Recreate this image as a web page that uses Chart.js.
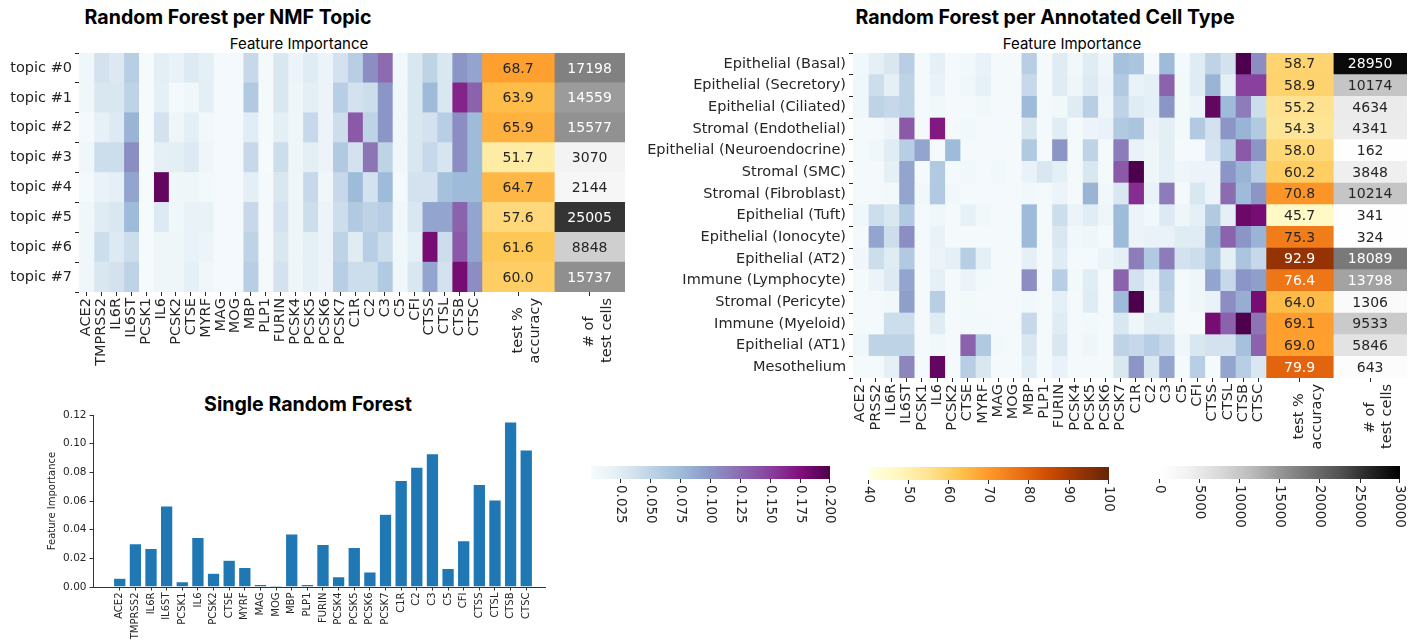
<!DOCTYPE html>
<html>
<head>
<meta charset="utf-8">
<script src="https://cdn.jsdelivr.net/npm/chart.js@4.4.0/dist/chart.umd.min.js"></script>
<style>
  body { margin: 0; background: #fff; width: 1420px; height: 643px; overflow: hidden; position: relative; }
  canvas { position: absolute; }
  .title { position: absolute; font: bold 19.6px Inter, sans-serif; color: #000; white-space: nowrap; transform: translateX(-50%); }
  .sub { position: absolute; font: 15px Inter, sans-serif; color: #000; white-space: nowrap; transform: translateX(-50%); }
</style>
</head>
<body>
<div class="title" style="left:228px;top:5px">Random Forest per NMF Topic</div>
<div class="sub" style="left:299px;top:34px">Feature Importance</div>
<div class="title" style="left:1045px;top:5px">Random Forest per Annotated Cell Type</div>
<div class="sub" style="left:1072px;top:34px">Feature Importance</div>
<div class="title" style="left:308px;top:392px">Single Random Forest</div>

<canvas id="topic-heat"></canvas>
<canvas id="celltype-heat"></canvas>
<canvas id="single-rf"></canvas>
<canvas id="cb-imp"></canvas>
<canvas id="cb-acc"></canvas>
<canvas id="cb-cells"></canvas>

<script>
// Datos
const FEATURES = ["ACE2","TMPRSS2","IL6R","IL6ST","PCSK1","IL6","PCSK2","CTSE","MYRF","MAG","MOG","MBP","PLP1",
  "FURIN","PCSK4","PCSK5","PCSK6","PCSK7","C1R","C2","C3","C5","CFI","CTSS","CTSL","CTSB","CTSC"];
const FEATURES_CELLTYPE = ["ACE2","PRSS2","IL6R","IL6ST","PCSK1","IL6","PCSK2","CTSE","MYRF","MAG","MOG","MBP","PLP1",
  "FURIN","PCSK4","PCSK5","PCSK6","PCSK7","C1R","C2","C3","C5","CFI","CTSS","CTSL","CTSB","CTSC"];
const ACC_LABEL = ["test %  ", "accuracy"];
const CELLS_LABEL = ["# of    ", "test cells"];

const TOPICS = ["topic #0","topic #1","topic #2","topic #3","topic #4","topic #5","topic #6","topic #7"];
const TOPIC_IMPORTANCE = [
  [0.008,0.035,0.028,0.055,0.002,0.022,0.015,0.027,0.020,0.004,0.004,0.045,0.003,0.030,0.012,0.025,0.012,0.035,0.055,0.105,0.125,0.006,0.030,0.050,0.030,0.100,0.090],
  [0.008,0.030,0.030,0.050,0.002,0.020,0.004,0.008,0.022,0.004,0.004,0.060,0.003,0.030,0.010,0.022,0.012,0.055,0.035,0.040,0.100,0.008,0.030,0.075,0.030,0.165,0.130],
  [0.004,0.018,0.027,0.080,0.002,0.035,0.010,0.022,0.006,0.004,0.004,0.024,0.003,0.022,0.010,0.045,0.012,0.040,0.135,0.050,0.100,0.008,0.030,0.035,0.055,0.105,0.075],
  [0.008,0.040,0.040,0.105,0.002,0.020,0.022,0.027,0.010,0.004,0.004,0.045,0.002,0.040,0.010,0.022,0.012,0.060,0.035,0.120,0.050,0.008,0.030,0.045,0.032,0.105,0.075],
  [0.004,0.015,0.020,0.090,0.002,0.190,0.010,0.010,0.005,0.004,0.004,0.022,0.003,0.030,0.010,0.045,0.008,0.045,0.075,0.035,0.075,0.004,0.035,0.035,0.070,0.075,0.075],
  [0.008,0.025,0.030,0.075,0.002,0.027,0.008,0.016,0.016,0.004,0.004,0.045,0.003,0.035,0.010,0.040,0.012,0.040,0.060,0.050,0.055,0.008,0.030,0.090,0.090,0.130,0.090],
  [0.008,0.040,0.027,0.040,0.002,0.010,0.010,0.015,0.012,0.004,0.004,0.050,0.003,0.030,0.010,0.020,0.012,0.050,0.025,0.055,0.040,0.008,0.020,0.180,0.040,0.135,0.090],
  [0.008,0.030,0.035,0.050,0.002,0.010,0.010,0.020,0.008,0.004,0.004,0.055,0.003,0.035,0.010,0.020,0.012,0.055,0.040,0.040,0.060,0.008,0.030,0.090,0.035,0.180,0.105],
];
const TOPIC_ACCURACY = [68.7, 63.9, 65.9, 51.7, 64.7, 57.6, 61.6, 60.0];
const TOPIC_TEST_CELLS = [17198, 14559, 15577, 3070, 2144, 25005, 8848, 15737];

const CELL_TYPES = ["Epithelial (Basal)","Epithelial (Secretory)","Epithelial (Ciliated)","Stromal (Endothelial)",
  "Epithelial (Neuroendocrine)","Stromal (SMC)","Stromal (Fibroblast)","Epithelial (Tuft)","Epithelial (Ionocyte)",
  "Epithelial (AT2)","Immune (Lymphocyte)","Stromal (Pericyte)","Immune (Myeloid)","Epithelial (AT1)","Mesothelium"];
const CELLTYPE_IMPORTANCE = [
  [0.006,0.020,0.030,0.055,0.003,0.020,0.004,0.006,0.015,0.003,0.003,0.055,0.003,0.025,0.006,0.025,0.010,0.070,0.065,0.004,0.075,0.004,0.025,0.050,0.035,0.200,0.105],
  [0.008,0.040,0.020,0.050,0.003,0.015,0.004,0.008,0.018,0.003,0.003,0.045,0.003,0.025,0.010,0.027,0.012,0.060,0.015,0.020,0.130,0.005,0.025,0.080,0.020,0.150,0.150],
  [0.008,0.050,0.045,0.050,0.004,0.007,0.003,0.003,0.007,0.003,0.003,0.075,0.003,0.007,0.025,0.055,0.010,0.050,0.025,0.020,0.100,0.005,0.012,0.190,0.075,0.115,0.040],
  [0.003,0.003,0.012,0.135,0.003,0.170,0.003,0.006,0.003,0.004,0.003,0.030,0.003,0.024,0.003,0.012,0.015,0.060,0.065,0.012,0.022,0.005,0.060,0.035,0.100,0.080,0.060],
  [0.003,0.008,0.024,0.055,0.090,0.003,0.075,0.003,0.003,0.003,0.003,0.060,0.003,0.100,0.003,0.050,0.003,0.115,0.015,0.010,0.022,0.003,0.004,0.033,0.055,0.135,0.100],
  [0.003,0.003,0.020,0.090,0.003,0.060,0.003,0.006,0.004,0.006,0.003,0.015,0.030,0.020,0.003,0.030,0.003,0.135,0.200,0.010,0.020,0.010,0.012,0.012,0.100,0.080,0.055],
  [0.003,0.003,0.005,0.090,0.007,0.060,0.006,0.004,0.004,0.004,0.003,0.006,0.003,0.012,0.003,0.080,0.006,0.030,0.160,0.015,0.115,0.004,0.030,0.012,0.125,0.075,0.100],
  [0.008,0.040,0.030,0.060,0.003,0.008,0.003,0.018,0.007,0.003,0.003,0.075,0.003,0.040,0.012,0.024,0.010,0.075,0.012,0.006,0.027,0.010,0.020,0.060,0.020,0.185,0.180],
  [0.003,0.090,0.040,0.105,0.003,0.015,0.003,0.003,0.003,0.003,0.003,0.075,0.003,0.030,0.006,0.010,0.003,0.075,0.012,0.015,0.015,0.025,0.025,0.080,0.130,0.100,0.080],
  [0.008,0.040,0.025,0.060,0.003,0.012,0.020,0.055,0.020,0.003,0.003,0.020,0.003,0.025,0.003,0.004,0.012,0.020,0.115,0.060,0.115,0.035,0.040,0.065,0.020,0.065,0.045],
  [0.003,0.012,0.027,0.090,0.003,0.020,0.003,0.012,0.005,0.003,0.003,0.105,0.003,0.055,0.005,0.024,0.003,0.130,0.035,0.015,0.055,0.003,0.010,0.090,0.045,0.100,0.095],
  [0.003,0.003,0.007,0.095,0.003,0.055,0.003,0.005,0.003,0.003,0.003,0.006,0.003,0.020,0.003,0.025,0.003,0.075,0.200,0.010,0.050,0.003,0.010,0.015,0.105,0.085,0.180],
  [0.003,0.004,0.040,0.040,0.003,0.025,0.003,0.005,0.005,0.004,0.003,0.045,0.003,0.025,0.003,0.005,0.003,0.030,0.010,0.025,0.025,0.003,0.003,0.180,0.130,0.200,0.120],
  [0.008,0.050,0.050,0.050,0.003,0.007,0.003,0.130,0.060,0.005,0.003,0.030,0.003,0.030,0.003,0.010,0.003,0.050,0.045,0.055,0.045,0.008,0.030,0.035,0.035,0.070,0.130],
  [0.003,0.003,0.020,0.110,0.003,0.190,0.003,0.055,0.030,0.003,0.003,0.024,0.003,0.015,0.003,0.003,0.003,0.030,0.100,0.030,0.090,0.003,0.055,0.003,0.090,0.055,0.030],
];
const CELLTYPE_ACCURACY = [58.7, 58.9, 55.2, 54.3, 58.0, 60.2, 70.8, 45.7, 75.3, 92.9, 76.4, 64.0, 69.1, 69.0, 79.9];
const CELLTYPE_TEST_CELLS = [28950, 10174, 4634, 4341, 162, 3848, 10214, 341, 324, 18089, 13798, 1306, 9533, 5846, 643];

const SINGLE_RF_IMPORTANCE = [0.0061,0.0302,0.0269,0.0566,0.0037,0.0346,0.0096,0.0187,0.0136,0.0019,0.0012,0.0370,0.0019,
  0.0297,0.0073,0.0276,0.0105,0.0508,0.0744,0.0837,0.0931,0.0129,0.0323,0.0716,0.0608,0.1151,0.0957];
const SINGLE_RF_TICKS = [0, 0.02, 0.04, 0.06, 0.08, 0.10, 0.12];

const IMP_RANGE = [0, 0.2], ACC_RANGE = [40, 100], CELLS_RANGE = [0, 30000];
const IMP_TICKS = [0.025, 0.05, 0.075, 0.1, 0.125, 0.15, 0.175, 0.2];
const ACC_TICKS = [40, 50, 60, 70, 80, 90, 100];
const CELLS_TICKS = [0, 5000, 10000, 15000, 20000, 25000, 30000];

// Colormaps (matplotlib BuPu, YlOrBr, Greys)
const BUPU = ["#f7fcfd","#e0ecf4","#bfd3e6","#9ebcda","#8c96c6","#8c6bb1","#88419d","#810f7c","#4d004b"];
const YLORBR = ["#ffffe5","#fff7bc","#fee391","#fec44f","#fe9929","#ec7014","#cc4c02","#993404","#662506"];
const GREYS = ["#ffffff","#f0f0f0","#d9d9d9","#bdbdbd","#969696","#737373","#525252","#252525","#000000"];
const TEXT = "#262626";
const FONT = "DejaVu Sans";

function hexRgb(h) { return [1, 3, 5].map(i => parseInt(h.slice(i, i + 2), 16)); }
function cmap(stops, v, [lo, hi]) {
  const t = Math.max(0, Math.min(1, (v - lo) / (hi - lo)));
  const s = t * (stops.length - 1);
  const i = Math.min(Math.floor(s), stops.length - 2), f = s - i;
  const a = hexRgb(stops[i]), b = hexRgb(stops[i + 1]);
  return a.map((c, k) => Math.round(c + (b[k] - c) * f));
}
function rgb(c) { return `rgb(${c[0]},${c[1]},${c[2]})`; }
function luminance(c) {
  const l = c.map(v => { v /= 255; return v <= 0.03928 ? v / 12.92 : Math.pow((v + 0.055) / 1.055, 2.4); });
  return 0.2126 * l[0] + 0.7152 * l[1] + 0.0722 * l[2];
}

Chart.defaults.font.family = FONT;
Chart.defaults.color = TEXT;
Chart.defaults.animation = false;
Chart.defaults.events = [];
Chart.defaults.plugins.legend.display = false;
Chart.defaults.plugins.tooltip.enabled = false;

function place(el, box) {
  el.width = box.w; el.height = box.h;
  el.style.left = box.left + "px"; el.style.top = box.top + "px";
  el.style.width = box.w + "px"; el.style.height = box.h + "px";
}

// Heatmap: barras flotantes horizontales, una por celda
function heatmap(id, { rows, cols, imp, acc, cells, accW, cellW, box, area, accThreshold }) {
  const el = document.getElementById(id);
  place(el, box);
  const nc = cols.length;
  const xAcc = nc, xCells = nc + accW, xMax = nc + accW + cellW;
  const datasets = cols.map((_, c) => ({
    data: rows.map(() => [c, c + 1]),
    backgroundColor: rows.map((_, r) => rgb(cmap(BUPU, imp[r][c], IMP_RANGE))),
  }));
  datasets.push({ data: rows.map(() => [xAcc, xCells]), backgroundColor: acc.map(v => rgb(cmap(YLORBR, v, ACC_RANGE))) });
  datasets.push({ data: rows.map(() => [xCells, xMax]), backgroundColor: cells.map(v => rgb(cmap(GREYS, v, CELLS_RANGE))) });
  datasets.forEach(d => Object.assign(d, { grouped: false, barPercentage: 1, categoryPercentage: 1, borderWidth: 0 }));

  const tickPos = cols.map((_, c) => c + 0.5).concat([xAcc + accW / 2, xCells + cellW / 2]);
  const tickLabels = cols.concat([ACC_LABEL, CELLS_LABEL]);

  const annot = {
    id: "annot",
    afterDatasetsDraw(chart) {
      const { ctx, scales: { x, y } } = chart;
      ctx.save();
      ctx.font = `14px "${FONT}"`;
      ctx.textAlign = "center";
      ctx.textBaseline = "middle";
      rows.forEach((_, r) => {
        const yy = y.getPixelForValue(r);
        const ca = cmap(YLORBR, acc[r], ACC_RANGE);
        ctx.fillStyle = luminance(ca) > accThreshold ? TEXT : "#fff";
        ctx.fillText(acc[r].toFixed(1), x.getPixelForValue(xAcc + accW / 2), yy + 1);
        const cc = cmap(GREYS, cells[r], CELLS_RANGE);
        ctx.fillStyle = luminance(cc) > 0.408 ? TEXT : "#fff";
        ctx.fillText(String(cells[r]), x.getPixelForValue(xCells + cellW / 2), yy + 1);
      });
      ctx.restore();
    },
  };

  return new Chart(el, {
    type: "bar",
    data: { labels: rows, datasets },
    plugins: [annot],
    options: {
      indexAxis: "y",
      responsive: false,
      layout: { padding: { top: area.top - box.top, right: box.left + box.w - area.right, left: 0, bottom: 0 } },
      scales: {
        x: {
          type: "linear", min: 0, max: xMax, offset: false,
          afterBuildTicks: s => { s.ticks = tickPos.map(v => ({ value: v })); },
          afterFit: s => { s.height = box.top + box.h - area.bottom; },
          ticks: { autoSkip: false, minRotation: 90, maxRotation: 90, padding: 2, font: { size: 14.5 },
                   callback: (v, i) => tickLabels[i] },
          grid: { display: true, drawOnChartArea: false, drawTicks: true, tickLength: 4, color: TEXT, offset: false },
          border: { display: false },
        },
        y: {
          afterFit: s => { s.width = area.left - box.left; },
          ticks: { font: { size: 14.5 }, padding: 3 },
          grid: { display: true, drawOnChartArea: false, drawTicks: true, tickLength: 4, color: TEXT },
          border: { display: false },
        },
      },
    },
  });
}

heatmap("topic-heat", {
  rows: TOPICS, cols: FEATURES, imp: TOPIC_IMPORTANCE, acc: TOPIC_ACCURACY, cells: TOPIC_TEST_CELLS,
  accW: 4.85, cellW: 4.74, accThreshold: 0.32,
  box: { left: 0, top: 30, w: 640, h: 400 },
  area: { left: 79, right: 625, top: 53, bottom: 292 },
});
heatmap("celltype-heat", {
  rows: CELL_TYPES, cols: FEATURES_CELLTYPE, imp: CELLTYPE_IMPORTANCE, acc: CELLTYPE_ACCURACY, cells: CELLTYPE_TEST_CELLS,
  accW: 4.40, cellW: 4.82, accThreshold: 0.32,
  box: { left: 640, top: 30, w: 780, h: 436 },
  area: { left: 853, right: 1407, top: 53, bottom: 378 },
});

// Random forest único
(function () {
  const box = { left: 40, top: 390, w: 520, h: 253 };
  const area = { left: 93, right: 545, top: 415, bottom: 587 };
  const el = document.getElementById("single-rf");
  place(el, box);
  new Chart(el, {
    type: "bar",
    data: { datasets: [{
      data: SINGLE_RF_IMPORTANCE.map((v, i) => ({ x: i, y: v })),
      backgroundColor: "#1f77b4", borderColor: "#ffffff", borderWidth: 0.6,
      barPercentage: 0.8, categoryPercentage: 1,
    }] },
    options: {
      responsive: false,
      layout: { padding: { top: area.top - box.top, right: box.left + box.w - area.right, left: 0, bottom: 0 } },
      scales: {
        x: {
          type: "linear", min: -1.71, max: 27.2, offset: false,
          afterBuildTicks: s => { s.ticks = FEATURES.map((_, i) => ({ value: i })); },
          afterFit: s => { s.height = box.top + box.h - area.bottom; },
          ticks: { autoSkip: false, minRotation: 90, maxRotation: 90, padding: 2, font: { size: 10 },
                   callback: (v, i) => FEATURES[i] },
          grid: { display: true, drawOnChartArea: false, drawTicks: true, tickLength: 3.5, color: "#333", offset: false },
          border: { display: true, color: "#333", width: 1 },
        },
        y: {
          min: 0, max: 0.12,
          afterBuildTicks: s => { s.ticks = SINGLE_RF_TICKS.map(v => ({ value: v })); },
          afterFit: s => { s.width = area.left - box.left; },
          ticks: { font: { size: 10.5 }, padding: 3, callback: v => v.toFixed(2) },
          grid: { display: true, drawOnChartArea: false, drawTicks: true, tickLength: 3.5, color: "#333" },
          border: { display: true, color: "#333", width: 1 },
          title: { display: true, text: "Feature Importance", font: { size: 10 }, padding: { top: 6, bottom: 4 } },
        },
      },
    },
  });
})();

// Barras de color: gráfico vertical girado 90°
function colorbar(id, stops, range, ticks, fmt, minX, maxX, top) {
  const el = document.getElementById(id);
  const thick = 13, axisW = 70, pad = 12;
  const len = maxX - minX;
  const W = thick + axisW, H = len + 2 * pad;
  place(el, { left: maxX - H + pad, top, w: W, h: H });
  el.style.transformOrigin = "0 0";
  el.style.transform = `translateX(${H}px) rotate(90deg)`;
  new Chart(el, {
    type: "bar",
    data: { labels: [""], datasets: [{
      data: [range],
      backgroundColor: c => {
        const ch = c.chart;
        if (!ch.chartArea) return stops[0];
        const ys = ch.scales.y;
        const g = ch.ctx.createLinearGradient(0, ys.getPixelForValue(range[0]), 0, ys.getPixelForValue(range[1]));
        stops.forEach((s, i) => g.addColorStop(i / (stops.length - 1), s));
        return g;
      },
      barPercentage: 1, categoryPercentage: 1, borderWidth: 0,
    }] },
    options: {
      responsive: false,
      layout: { padding: { top: pad, bottom: pad, left: 0, right: 0 } },
      scales: {
        x: { display: false },
        y: {
          position: "right", min: range[0], max: range[1],
          afterBuildTicks: s => { s.ticks = ticks.map(v => ({ value: v })); },
          afterFit: s => { s.width = axisW; s.paddingTop = 0; s.paddingBottom = 0; },
          ticks: { font: { size: 13.5 }, padding: 2, callback: v => fmt(v) },
          grid: { display: true, drawOnChartArea: false, drawTicks: true, tickLength: 4, color: TEXT },
          border: { display: false },
        },
      },
    },
  });
}

colorbar("cb-imp", BUPU, IMP_RANGE, IMP_TICKS, v => v.toFixed(3), 591, 830, 466);
colorbar("cb-acc", YLORBR, ACC_RANGE, ACC_TICKS, v => String(v), 869, 1109, 467);
colorbar("cb-cells", GREYS, CELLS_RANGE, CELLS_TICKS, v => String(v), 1160, 1400, 466);
</script>
</body>
</html>
